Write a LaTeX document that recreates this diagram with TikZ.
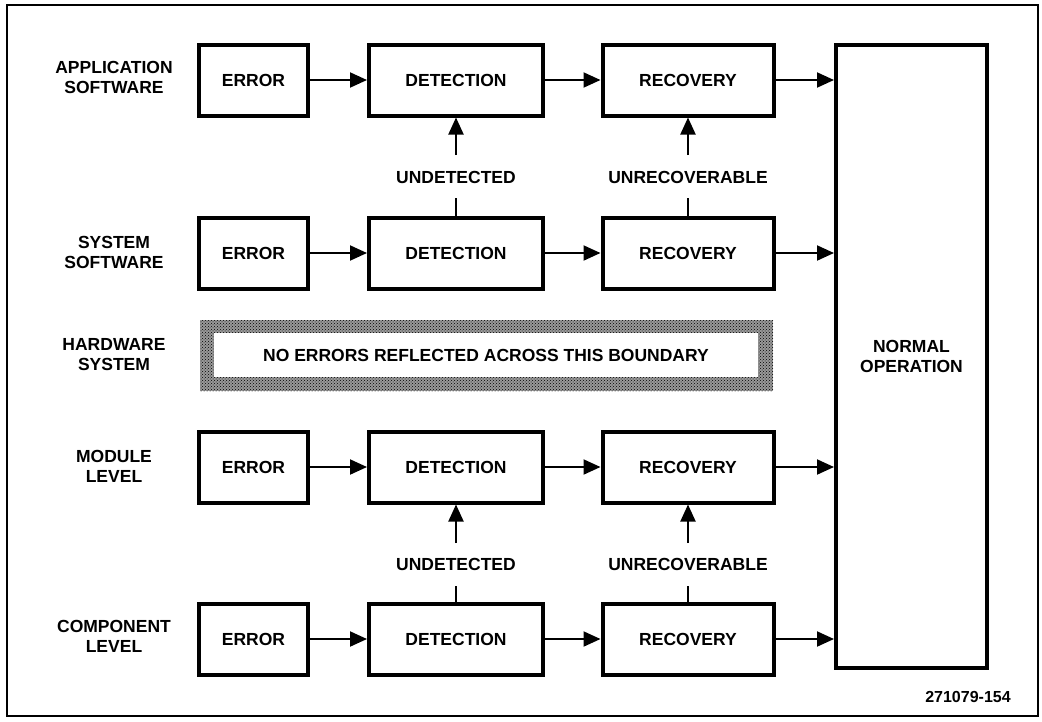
\documentclass[tikz,border=0pt]{standalone}
\usepackage{fontspec}
\setmainfont{Liberation Sans}
\usetikzlibrary{arrows.meta,patterns}
\begin{document}
\begin{tikzpicture}[x=1pt,y=-1pt,
  blk/.style={draw,line width=4pt,inner sep=0pt,font=\fontsize{17.5}{20}\selectfont\bfseries},
  lbl/.style={align=center,font=\fontsize{17.5}{20}\selectfont\bfseries,inner sep=0pt},
  conn/.style={line width=2pt,-{Triangle[length=17pt,width=15pt]}},
  plain/.style={line width=2pt}]
\useasboundingbox (0,0) rectangle (1042,721);
\draw[line width=2pt] (7,5) rectangle (1038,716);

% rows: y centres 80, 253, 467, 639
\foreach \r/\y in {a/80,s/253,m/467,c/639}{
  \node[blk,minimum width=109pt,minimum height=71pt] (err\r) at (253.5,\y) {ERROR};
  \node[blk,minimum width=174pt,minimum height=71pt] (det\r) at (456,\y) {DETECTION};
  \node[blk,minimum width=171pt,minimum height=71pt] (rec\r) at (688,\y) {RECOVERY};
}
\node[blk,minimum width=151pt,minimum height=623pt] (norm) at (911.5,356.5) {};
\node[lbl] (normt) at (911.5,356) {NORMAL\\OPERATION};

\foreach \r in {a,s,m,c}{
  \draw[conn] (err\r) -- (det\r);
  \draw[conn] (det\r) -- (rec\r);
  \draw[conn] (rec\r.east) -- (rec\r.east -| norm.west);
}

% vertical links
\node[lbl] (und1) at (456,177) {UNDETECTED};
\node[lbl] (unr1) at (688,177) {UNRECOVERABLE};
\node[lbl] (und2) at (456,564) {UNDETECTED};
\node[lbl] (unr2) at (688,564) {UNRECOVERABLE};
\coordinate (u1a) at (456,155); \coordinate (u1b) at (456,198);
\coordinate (r1a) at (688,155); \coordinate (r1b) at (688,198);
\coordinate (u2a) at (456,543); \coordinate (u2b) at (456,586);
\coordinate (r2a) at (688,543); \coordinate (r2b) at (688,586);
\draw[conn] (u1a) -- (deta.south);
\draw[plain] (dets.north) -- (u1b);
\draw[conn] (r1a) -- (reca.south);
\draw[plain] (recs.north) -- (r1b);
\draw[conn] (u2a) -- (detm.south);
\draw[plain] (detc.north) -- (u2b);
\draw[conn] (r2a) -- (recm.south);
\draw[plain] (recc.north) -- (r2b);

% boundary band
\fill[black!40] (200,320) rectangle (773,391);
\fill[pattern=crosshatch dots,pattern color=black] (200,320) rectangle (773,391);
\fill[white] (214,333) rectangle (758,377);
\node[lbl] (bnd) at (486,355) {NO ERRORS REFLECTED ACROSS THIS BOUNDARY};

% row labels
\node[lbl] (la) at (114,77) {APPLICATION\\SOFTWARE};
\node[lbl] (ls) at (114,252) {SYSTEM\\SOFTWARE};
\node[lbl] (lh) at (114,355) {HARDWARE\\SYSTEM};
\node[lbl] (lm) at (114,466) {MODULE\\LEVEL};
\node[lbl] (lc) at (114,636) {COMPONENT\\LEVEL};

\node[font=\fontsize{16}{18}\selectfont\bfseries,inner sep=0pt] (fig) at (968,697) {271079-154};
\end{tikzpicture}
\end{document}
